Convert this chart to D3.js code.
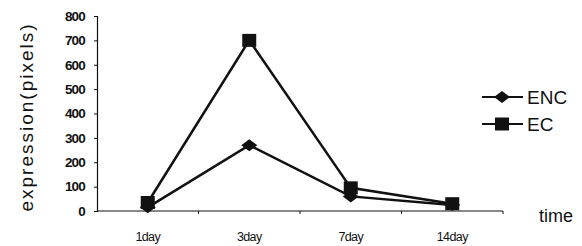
<!DOCTYPE html>
<html>
<head>
<meta charset="utf-8">
<script src="https://cdn.jsdelivr.net/npm/d3@7"></script>
<style>
  body { margin: 0; background: #fff; }
  svg { display: block; }
</style>
</head>
<body>
<div id="chart"></div>
<script>
// expression over time, two series

var days = ["1day", "3day", "7day", "14day"];
var encValues = [15, 270, 60, 25];
var ecValues = [35, 700, 95, 30];
var yTicks = [0, 100, 200, 300, 400, 500, 600, 700, 800];

var svgWidth = 582, svgHeight = 246;
var margin = {top: 16, left: 97, right: 79, bottom: 35};
var width = svgWidth - margin.left - margin.right;
var height = svgHeight - margin.top - margin.bottom;

var svg = d3.select("#chart")
    .append("svg")
    .attr("width", svgWidth)
    .attr("height", svgHeight);

var chartGroup = svg.append("g")
    .attr("transform", "translate(" + margin.left + "," + margin.top + ")");

var xScale = d3.scaleBand()
    .domain(days)
    .range([0, width]);
var yScale = d3.scaleLinear()
    .domain([0, 800])
    .range([height, 0]);

var ink = "#111";
var narrow = "'Liberation Sans Narrow', 'Arial Narrow', Arial, sans-serif";
var sans = "Arial, 'Liberation Sans', sans-serif";

// y axis
var leftAxis = d3.axisLeft(yScale)
    .tickValues(yTicks)
    .tickSize(3)
    .tickPadding(9);
var yG = chartGroup.append("g").call(leftAxis);
yG.select(".domain").attr("stroke", ink).attr("stroke-width", 1.2);
yG.selectAll(".tick line").attr("stroke", ink);
yG.selectAll("text")
    .attr("font-family", narrow)
    .attr("font-size", "13.5px")
    .attr("font-weight", "bold")
    .attr("letter-spacing", "-0.8px")
    .attr("fill", ink);

// x axis with ticks between categories
var xG = chartGroup.append("g")
    .attr("transform", "translate(0," + height + ")");
xG.append("line")
    .attr("x1", 0).attr("x2", width)
    .attr("stroke", ink).attr("stroke-width", 1.2);
xG.selectAll(".xtick")
    .data(days.slice(1))
    .enter()
    .append("line")
    .attr("class", "xtick")
    .attr("x1", d => xScale(d)).attr("x2", d => xScale(d))
    .attr("y1", 0).attr("y2", 3)
    .attr("stroke", ink);
xG.append("line")
    .attr("x1", width).attr("x2", width)
    .attr("y1", 0).attr("y2", 3)
    .attr("stroke", ink);
xG.selectAll(".xlabel")
    .data(days)
    .enter()
    .append("text")
    .attr("class", "xlabel")
    .attr("x", d => xScale(d) + xScale.bandwidth() / 2)
    .attr("y", 30)
    .attr("text-anchor", "middle")
    .attr("font-family", narrow)
    .attr("font-size", "12.5px")
    .attr("letter-spacing", "-0.6px")
    .attr("fill", ink)
    .text(d => d);

// lines
var line = d3.line()
    .x((d, i) => xScale(days[i]) + xScale.bandwidth() / 2)
    .y(d => yScale(d));

[encValues, ecValues].forEach(vals => {
    chartGroup.append("path")
        .datum(vals)
        .attr("d", line)
        .attr("fill", "none")
        .attr("stroke", ink)
        .attr("stroke-width", 2.5);
});

// wide diamond and square markers
var diamond = "M-8,0L0,-6L8,0L0,6Z";
var square = "M-7,-6.5H7V6.5H-7Z";

chartGroup.selectAll(".enc")
    .data(encValues)
    .enter()
    .append("path")
    .attr("class", "enc")
    .attr("d", diamond)
    .attr("transform", (d, i) => "translate(" + (xScale(days[i]) + xScale.bandwidth() / 2) + "," + yScale(d) + ")")
    .attr("fill", ink);

chartGroup.selectAll(".ec")
    .data(ecValues)
    .enter()
    .append("path")
    .attr("class", "ec")
    .attr("d", square)
    .attr("transform", (d, i) => "translate(" + (xScale(days[i]) + xScale.bandwidth() / 2) + "," + yScale(d) + ")")
    .attr("fill", ink);

// legend
var legend = svg.append("g").attr("transform", "translate(482,0)");
var items = [{name: "ENC", sym: diamond, y: 97}, {name: "EC", sym: square, y: 124}];
items.forEach(it => {
    legend.append("line")
        .attr("x1", 0).attr("x2", 41)
        .attr("y1", it.y).attr("y2", it.y)
        .attr("stroke", ink).attr("stroke-width", 2);
    legend.append("path")
        .attr("d", it.sym)
        .attr("transform", "translate(20," + it.y + ")")
        .attr("fill", ink);
    legend.append("text")
        .attr("x", 45).attr("y", it.y + 7)
        .attr("font-family", sans)
        .attr("font-size", "19px")
        .attr("fill", ink)
        .text(it.name);
});

// axis titles
svg.append("text")
    .attr("x", 539).attr("y", 222)
    .attr("font-family", sans)
    .attr("font-size", "18px")
    .attr("fill", ink)
    .text("time");

svg.append("text")
    .attr("transform", "translate(33," + 117 + ") rotate(-90)")
    .attr("text-anchor", "middle")
    .attr("font-family", sans)
    .attr("font-size", "19px")
    .attr("letter-spacing", "2px")
    .attr("fill", ink)
    .text("expression(pixels)");
</script>
</body>
</html>
